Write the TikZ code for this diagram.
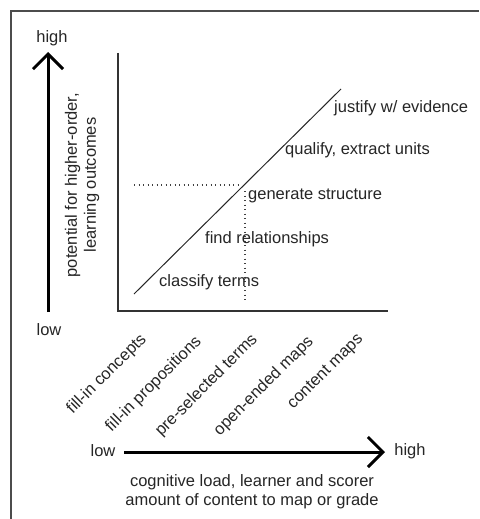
\documentclass[tikz,border=0pt]{standalone}
\usepackage{fontspec}
\setmainfont{Liberation Sans}
\usetikzlibrary{arrows.meta}
\begin{document}
\begin{tikzpicture}[x=1pt,y=-1pt,
  lbl/.style={inner sep=0pt,font=\fontsize{16.5}{19}\selectfont,text=black!85},
  rot/.style={lbl,rotate=45,anchor=east},
  axisline/.style={line width=2.4pt,draw=black!80},
  bigarrow/.style={line width=3pt,-{Straight Barb[length=15pt,width=30pt]}},
  dots/.style={line width=1.3pt,dash pattern=on 1.3pt off 3.2pt,draw=black!75},
  frameline/.style={line width=1.6pt,draw=black!70}]
\useasboundingbox (0,0) rectangle (479,519);
\fill[white] (0,0) rectangle (479,519);
% outer frame (only top and left edges visible)
\coordinate (fbl) at (11,519);
\coordinate (ftl) at (11,11);
\coordinate (ftr) at (479,11);
\draw[frameline] (fbl) -- (ftl) -- (ftr);
% vertical arrow
\coordinate (va0) at (48,312);
\coordinate (va1) at (48,52);
\draw[bigarrow] (va0) -- (va1);
\node[lbl] (vhigh) at (52,38) {high};
\node[lbl] (vlow) at (49,330) {low};
\node[lbl,rotate=90,align=center] (vlab) at (82,185) {potential for higher-order,\\learning outcomes};
% axes frame
\coordinate (atop) at (118,53);
\coordinate (aorig) at (118,311);
\coordinate (aright) at (388,311);
\draw[axisline] (atop) -- (aorig) -- (aright);
% diagonal
\coordinate (d0) at (134,294);
\coordinate (d1) at (341,89);
\draw[line width=1pt,black!85] (d0) -- (d1);
% dotted guides
\coordinate (h0) at (134,185);
\coordinate (h1) at (238,185);
\coordinate (v0) at (245,191);
\coordinate (v1) at (245,300);
\draw[dots] (h0) -- (h1);
\draw[dots] (v0) -- (v1);
% level labels
\node[lbl,anchor=west] (l5) at (334,108) {justify w/ evidence};
\node[lbl,anchor=west] (l4) at (285,150) {qualify, extract units};
\node[lbl,anchor=west] (l3) at (248,196) {generate structure};
\node[lbl,anchor=west] (l2) at (205,239) {find relationships};
\node[lbl,anchor=west] (l1) at (159,282) {classify terms};
% rotated category labels
\node[rot] (c1) at (144,337) {fill-in concepts};
\node[rot] (c2) at (199,339) {fill-in propositions};
\node[rot] (c3) at (255,337) {pre-selected terms};
\node[rot] (c4) at (311,339) {open-ended maps};
\node[rot] (c5) at (361,337) {content maps};
% horizontal arrow
\coordinate (ha0) at (124,452);
\coordinate (ha1) at (385,452);
\draw[bigarrow] (ha0) -- (ha1);
\node[lbl] (hlow) at (103,451) {low};
\node[lbl] (hhigh) at (410,451) {high};
\node[lbl,align=center] (hlab) at (252,492) {cognitive load, learner and scorer\\amount of content to map or grade};
\end{tikzpicture}
\end{document}
